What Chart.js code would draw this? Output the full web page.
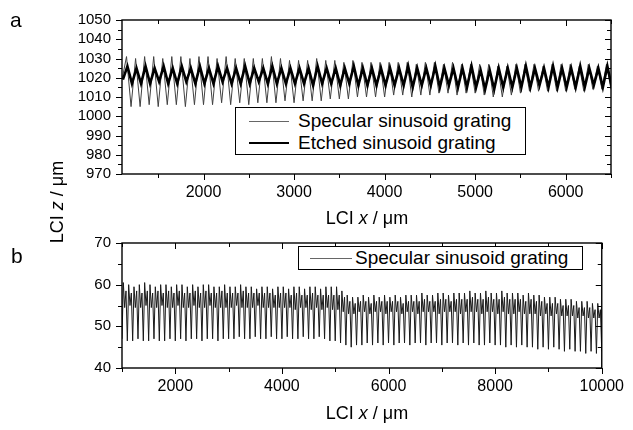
<!DOCTYPE html>
<html lang="en">
<head>
<meta charset="UTF-8">
<title>LCI profiles of sinusoid gratings</title>
<script src="https://cdn.jsdelivr.net/npm/chart.js"></script>
<style>
  body { margin: 0; background: #fff; color: #000; font-family: "Liberation Sans", Arial, sans-serif; }
  #wrap { position: relative; width: 633px; height: 430px; overflow: hidden; }
  canvas { position: absolute; left: 0; }
  .tag { position: absolute; font-size: 21px; line-height: 21px; }
  .xtitle { position: absolute; left: 122px; width: 490px; text-align: center; font-size: 18px; line-height: 18px; }
  .ytitle { position: absolute; width: 140px; text-align: center; font-size: 18px; line-height: 18px; transform: rotate(-90deg); }
  .legend { position: absolute; background: #fff; border: 1px solid #000; font-size: 19px; box-sizing: border-box; }
  .legend .row { display: flex; align-items: center; white-space: nowrap; }
  .legend .swatch { display: inline-block; }
</style>
</head>
<body>
<div id="wrap">
  <canvas id="chartA" width="633" height="215" style="top:0"></canvas>
  <canvas id="chartB" width="633" height="215" style="top:215px"></canvas>

  <div class="tag" style="left:10px; top:9px">a</div>
  <div class="tag" style="left:11px; top:245px">b</div>
  <div class="ytitle" style="left:-13px; top:193px">LCI <i>z</i> / μm</div>
  <div class="xtitle" style="top:209px">LCI <i>x</i> / μm</div>
  <div class="xtitle" style="top:404px">LCI <i>x</i> / μm</div>

  <div id="legendA" class="legend" style="left:235px; top:107px; width:291px; height:48px; padding-top:2px"></div>
  <div id="legendB" class="legend" style="left:298px; top:246px; width:285px; height:24px"></div>
</div>

<script>
// ---- panel a: specular vs etched grating, sampled every 50 um (trough, peak, trough ...)
const startA = 1100, stepA = 50;
const specTroughA = [
  1019, 1005, 1005, 1006, 1005, 1006, 1006, 1005, 1006,
  1006, 1006, 1007, 1006, 1007, 1006, 1007, 1007, 1007, 1008,
  1007, 1008, 1008, 1008, 1009, 1009, 1009, 1010, 1010, 1010,
  1010, 1011, 1011, 1010, 1011, 1011, 1012, 1012, 1011, 1012,
  1012, 1011, 1010, 1010, 1011, 1012, 1013, 1013, 1013, 1013,
  1013, 1014, 1013, 1014, 1014, 1014
];
const specPeakA = [
  1031, 1030, 1031, 1031, 1030, 1031, 1031, 1030, 1031,
  1031, 1030, 1031, 1030, 1030, 1030, 1030, 1031, 1030, 1029,
  1029, 1029, 1030, 1029, 1029, 1028, 1029, 1028, 1028, 1028,
  1028, 1028, 1028, 1027, 1028, 1028, 1027, 1028, 1027, 1027,
  1027, 1027, 1026, 1026, 1027, 1027, 1027, 1026, 1027, 1027,
  1027, 1026, 1027, 1026, 1027
];
const etchTroughA = [
  1019, 1017, 1017, 1017, 1018, 1017, 1017, 1018, 1017,
  1017, 1017, 1018, 1017, 1017, 1017, 1018, 1017, 1017, 1017,
  1017, 1017, 1016, 1017, 1017, 1016, 1017, 1016, 1016, 1016,
  1016, 1016, 1016, 1015, 1016, 1016, 1015, 1016, 1015, 1015,
  1015, 1014, 1014, 1015, 1015, 1015, 1015, 1016, 1015, 1015,
  1015, 1015, 1015, 1016, 1015, 1015
];
const etchPeakA = [
  1026, 1025, 1026, 1025, 1026, 1025, 1026, 1025, 1026,
  1025, 1026, 1025, 1025, 1026, 1025, 1025, 1026, 1025, 1025,
  1025, 1025, 1026, 1025, 1025, 1025, 1026, 1025, 1025, 1025,
  1025, 1025, 1026, 1025, 1025, 1026, 1025, 1025, 1025, 1026,
  1024, 1024, 1025, 1025, 1025, 1026, 1025, 1025, 1026, 1025,
  1025, 1026, 1025, 1025, 1026
];

// ---- panel b: specular grating, every 25 um (trough, peak, shoulder, second peak, ...)
const startB = 1000, stepB = 25;
const troughB = [
  47, 46.5, 46.5, 47, 46.5, 46.5, 47, 46.5, 46.5, 47,
  46.5, 47, 46.5, 47, 47, 46.5, 47, 47, 46.5, 47,
  47, 47, 47.5, 47, 47, 47.5, 47, 47, 47.5, 47,
  47, 47.5, 47, 47, 47.5, 47, 47, 47.5, 47, 46.5,
  46.5, 46, 45.5, 45, 45.5, 45.5, 46, 45.5, 46, 45.5,
  46, 45.5, 46, 46, 45.5, 46, 46, 45.5, 46, 46,
  45.5, 46, 46, 45.5, 46, 45.5, 46, 45.5, 45.5, 46,
  45.5, 45.5, 45, 45.5, 45, 45.5, 45, 45, 44.5, 45,
  44.5, 45, 44.5, 44, 44.5, 44, 44, 43.5, 44, 43.5,
  44
];
const peakB = [
  60.5, 60, 59.5, 60, 60.5, 60, 59.5, 60, 60, 59.5,
  60, 60, 59.5, 60, 59.5, 60, 60, 59.5, 59.5, 60,
  59.5, 59.5, 60, 59.5, 59.5, 59, 59.5, 59.5, 59, 59.5,
  59.5, 59, 59.5, 59.5, 59, 59.5, 59.5, 59, 59.5, 59.5,
  59.5, 58.5, 57.5, 57, 57, 57.5, 57, 57.5, 57, 57.5,
  57, 57.5, 57, 57.5, 57.5, 57.5, 58, 57.5, 57.5, 58,
  58, 57.5, 58, 58, 58, 58.5, 58, 58, 58.5, 58,
  58, 58.5, 58, 58, 58, 57.5, 58, 57.5, 57.5, 57,
  57, 57, 56.5, 56.5, 56.5, 56, 56, 56, 55.5, 55.5
];
const midB = [
  54.5, 55, 54.5, 54.5, 55, 54.5, 54.5, 55, 54.5, 54.5,
  55, 54.5, 54.5, 55, 54.5, 54.5, 55, 54.5, 54.5, 54.5,
  54.5, 55, 54.5, 54.5, 54.5, 55, 54.5, 54.5, 54.5, 54.5,
  54.5, 54.5, 54, 54.5, 54.5, 54, 54.5, 54, 54.5, 54,
  54, 53.5, 53, 53, 53.5, 53.5, 53, 53.5, 53.5, 53,
  53.5, 53.5, 53, 53.5, 53.5, 53, 53.5, 53.5, 53.5, 53,
  53.5, 53.5, 53.5, 53, 53.5, 53.5, 53.5, 53, 53.5, 53.5,
  53, 53.5, 53, 53, 53.5, 53, 53, 53, 52.5, 53,
  52.5, 53, 52.5, 52.5, 52.5, 52, 52.5, 52, 52, 52
];
const peak2B = [
  58.5, 58, 58.5, 58, 58.5, 58, 58.5, 58, 58.5, 58,
  58.5, 58, 58, 58.5, 58, 58.5, 58, 58, 58.5, 58,
  58, 58, 58.5, 58, 58, 58, 58, 58, 57.5, 58,
  58, 57.5, 58, 57.5, 57.5, 58, 57.5, 57.5, 57.5, 57.5,
  57.5, 57, 56, 55.5, 56, 56, 55.5, 56, 56, 56,
  56, 56, 55.5, 56, 56, 56, 56.5, 56, 56, 56.5,
  56.5, 56, 56.5, 56.5, 56.5, 57, 56.5, 56.5, 57, 56.5,
  56.5, 57, 56.5, 56.5, 56.5, 56, 56.5, 56, 56, 55.5,
  55.5, 55.5, 55, 55, 55, 54.5, 54.5, 54.5, 54, 54
];

// axis ticks
const xTicksA = [2000, 3000, 4000, 5000, 6000];
const xMinorA = [1500, 2500, 3500, 4500, 5500, 6500];
const yTicksA = [970, 980, 990, 1000, 1010, 1020, 1030, 1040, 1050];
const yMinorA = [975, 985, 995, 1005, 1015, 1025, 1035, 1045];
const xTicksB = [2000, 4000, 6000, 8000, 10000];
const xMinorB = [1000, 3000, 5000, 7000, 9000];
const yTicksB = [40, 50, 60, 70];
const yMinorB = [45, 55, 65];

// interleave the per-period arrays into a point list
function cycle(start, step, lists) {
  const pts = [];
  const n = lists[0].length;
  for (let i = 0; i < n; i++) {
    lists.forEach((l, k) => {
      if (i < l.length) pts.push({x: start + (i * lists.length + k) * step, y: l[i]});
    });
  }
  return pts;
}

const frameTicks = {
  id: 'frameTicks',
  afterDatasetsDraw(chart, args, o) {
    const {ctx, chartArea: a, scales: {x, y}} = chart;
    ctx.save();
    ctx.strokeStyle = '#000';
    ctx.lineWidth = 1;
    ctx.beginPath();
    const vx = (vals, len) => vals.forEach(v => {
      const p = Math.round(x.getPixelForValue(v)) + 0.5;
      ctx.moveTo(p, a.bottom); ctx.lineTo(p, a.bottom + len);
      ctx.moveTo(p, a.top); ctx.lineTo(p, a.top + len);
    });
    const vy = (vals, len) => vals.forEach(v => {
      const p = Math.round(y.getPixelForValue(v)) + 0.5;
      ctx.moveTo(a.left, p); ctx.lineTo(a.left - len, p);
      ctx.moveTo(a.right, p); ctx.lineTo(a.right - len, p);
    });
    vx(o.xMajor, 6); vx(o.xMinor, 4);
    vy(o.yMajor, 6); vy(o.yMinor, 4);
    ctx.stroke();
    ctx.lineWidth = 1.4;
    ctx.strokeRect(a.left, a.top, a.right - a.left, a.bottom - a.top);
    ctx.restore();
  }
};

Chart.defaults.font.family = '"Liberation Sans", Arial, sans-serif';
Chart.defaults.color = '#000';

function axes(xr, yr, xt, yt, xh) {
  return {
    x: {
      type: 'linear', min: xr[0], max: xr[1],
      grid: {display: false, drawTicks: false}, border: {display: false},
      afterBuildTicks: s => { s.ticks = xt.map(v => ({value: v})); },
      afterFit: s => { s.height = xh; },
      ticks: {padding: 9, maxRotation: 0, autoSkip: false, font: {size: 16}, callback: v => String(v)}
    },
    y: {
      min: yr[0], max: yr[1],
      grid: {display: false, drawTicks: false}, border: {display: false},
      afterBuildTicks: s => { s.ticks = yt.map(v => ({value: v})); },
      afterFit: s => { s.width = 122; },
      ticks: {padding: 11, autoSkip: false, font: {size: 15}, callback: v => String(v)}
    }
  };
}

const chartA = new Chart(document.getElementById('chartA'), {
  type: 'line',
  data: {
    datasets: [
      {label: 'Specular sinusoid grating', data: cycle(startA, stepA, [specTroughA, specPeakA]),
       borderColor: '#404040', borderWidth: 1, order: 1},
      {label: 'Etched sinusoid grating', data: cycle(startA + 10, stepA, [etchTroughA, etchPeakA]),
       borderColor: '#000', borderWidth: 2.6, order: 0}
    ]
  },
  options: {
    responsive: false, animation: false,
    elements: {point: {radius: 0}, line: {tension: 0}},
    layout: {padding: {top: 15, right: 22, left: 0, bottom: 0}},
    plugins: {legend: {display: false}, tooltip: {enabled: false},
      frameTicks: {xMajor: xTicksA, xMinor: xMinorA, yMajor: yTicksA, yMinor: yMinorA}},
    scales: axes([1100, 6500], [970, 1050], xTicksA, yTicksA, 41)
  },
  plugins: [frameTicks]
});

const chartB = new Chart(document.getElementById('chartB'), {
  type: 'line',
  data: {
    datasets: [
      {label: 'Specular sinusoid grating', data: cycle(startB, stepB, [troughB, peakB, midB, peak2B]),
       borderColor: '#1a1a1a', borderWidth: 1}
    ]
  },
  options: {
    responsive: false, animation: false,
    elements: {point: {radius: 0}, line: {tension: 0}},
    layout: {padding: {top: 28, right: 21, left: 0, bottom: 0}},
    plugins: {legend: {display: false}, tooltip: {enabled: false},
      frameTicks: {xMajor: xTicksB, xMinor: xMinorB, yMajor: yTicksB, yMinor: yMinorB}},
    scales: axes([1000, 10000], [40, 70], xTicksB, yTicksB, 62)
  },
  plugins: [frameTicks]
});

// html legends built from the dataset settings
function legend(el, chart, rowH, sw, gap, indent) {
  chart.data.datasets.forEach(ds => {
    const row = document.createElement('div');
    row.className = 'row';
    row.style.height = rowH + 'px';
    const line = document.createElement('span');
    line.className = 'swatch';
    line.style.cssText = `width:${sw}px;margin:0 ${gap}px 0 ${indent}px;border-top:${Math.max(1.5, ds.borderWidth)}px solid ${ds.borderWidth > 2 ? '#000' : '#666'}`;
    row.appendChild(line);
    row.appendChild(document.createTextNode(ds.label));
    el.appendChild(row);
  });
}
legend(document.getElementById('legendA'), chartA, 22, 40, 9, 13);
legend(document.getElementById('legendB'), chartB, 22, 42, 3, 11);
</script>
</body>
</html>
